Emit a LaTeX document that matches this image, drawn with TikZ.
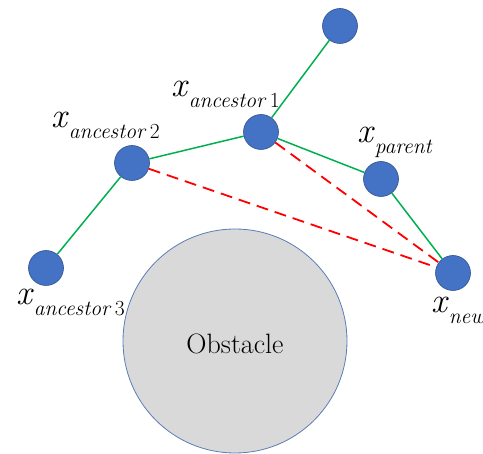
\documentclass[tikz,border=0pt]{standalone}
\usepackage{tikz}
\usetikzlibrary{positioning}
\definecolor{nodeblue}{HTML}{4472C4}
\definecolor{rimblue}{HTML}{2F528F}
\definecolor{edgegreen}{HTML}{00B050}
\definecolor{obsgray}{HTML}{D9D9D9}
\definecolor{obsrim}{HTML}{5B7DB8}
\newcommand{\xsub}[1]{\textit{x}\raisebox{-11pt}{\fontsize{21.5}{21.5}\selectfont #1}}

\begin{document}
\begin{tikzpicture}[x=1pt, y=-1pt,
    vtx/.style={draw=rimblue, fill=nodeblue, circle, line width=0.6pt, minimum size=35pt, inner sep=0pt},
    tree/.style={draw=edgegreen, line width=1.5pt},
    rewire/.style={draw=red, line width=1.8pt, dash pattern=on 12pt off 7pt},
    lbl/.style={inner sep=0pt, anchor=base west, font=\fontsize{35}{35}\selectfont}]
  \useasboundingbox (0,0) rectangle (483,454);
  % obstacle
  \node[draw=obsrim, fill=obsgray, circle, line width=0.8pt, minimum size=224pt, inner sep=0pt] (obs) at (235,341) {};
  \node[font=\fontsize{28}{28}\selectfont] (obstxt) at (235,344) {Obstacle};
  % tree nodes
  \node[vtx] (top) at (340,26) {};
  \node[vtx] (a1) at (261,132) {};
  \node[vtx] (a2) at (132,163) {};
  \node[vtx] (a3) at (46,268) {};
  \node[vtx] (par) at (381,179) {};
  \node[vtx] (new) at (453,273) {};
  % edges
  \draw[tree] (top) -- (a1);
  \draw[tree] (a1) -- (a2);
  \draw[tree] (a2) -- (a3);
  \draw[tree] (a1) -- (par);
  \draw[tree] (par) -- (new);
  \draw[rewire] (a1) -- (new);
  \draw[rewire] (a2) -- (new);
  % labels
  \node[lbl] (la1) at (171,97) {\xsub{\textit{ancestor}\,1}};
  \node[lbl] (la2) at (51,128) {\xsub{\textit{ancestor}\,2}};
  \node[lbl] (la3) at (16,305) {\xsub{\textit{ancestor}\,3}};
  \node[lbl] (lpar) at (357,143) {\xsub{\textit{parent}}};
  \node[lbl] (lnew) at (431,313) {\xsub{\textit{new}}};
\end{tikzpicture}
\end{document}
